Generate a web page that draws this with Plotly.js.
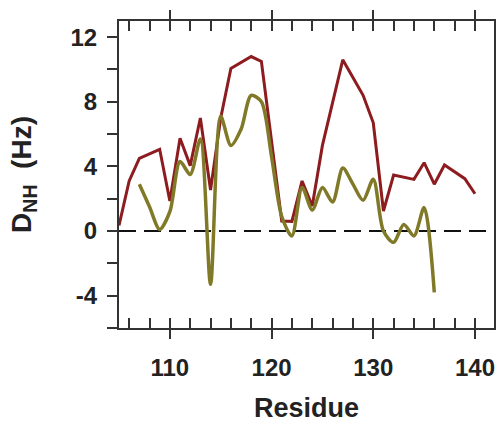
<!DOCTYPE html>
<html>
<head>
<meta charset="utf-8">
<script src="https://cdn.plot.ly/plotly-3.0.1.min.js"></script>
<style>html,body{margin:0;padding:0;background:#fff;}#chart{width:496px;height:423px;}</style>
</head>
<body>
<div id="chart"></div>
<script>
// Residue numbers and dipolar couplings (Hz)
const residuesA = [105,106,107,108,109,110,111,112,113,114,115,116,117,118,119,120,121,122,123,124,125,126,127,128,129,130,131,132,133,134,135,136,137,138,139,140];
const dnhA      = [0.35,3.1,4.5,4.78,5.06,1.86,5.74,4.05,7.0,2.54,7.0,10.06,10.43,10.8,10.5,5.5,0.62,0.6,3.1,1.55,5.3,7.95,10.6,9.5,8.4,6.7,1.24,3.47,3.33,3.2,4.23,2.9,4.09,3.65,3.24,2.31];

const residuesB = [107,108,109,110,111,112,113,114,115,116,117,118,119,120,121,122,123,124,125,126,127,128,129,130,131,132,133,134,135,136];
const dnhB      = [2.9,1.5,0.1,1.2,4.3,3.5,5.7,-3.3,7.1,5.3,6.3,8.4,8.0,4.6,0.9,-0.3,2.7,1.3,2.7,1.8,3.9,2.9,1.9,3.2,0.0,-0.7,0.4,-0.3,1.45,-3.8];

const xTickVals = [110,120,130,140];
const xTickText = ['110','120','130','140'];
const yTickVals = [-4,0,4,8,12];
const yTickText = ['-4','0','4','8','12'];

const axisColor = '#333333';
const fontFam = 'Liberation Sans, Arial, sans-serif';

const traces = [
  {x: residuesA, y: dnhA, type: 'scatter', mode: 'lines',
   line: {color: '#8c1c1f', width: 3}, hoverinfo: 'skip'},
  {x: residuesB, y: dnhB, type: 'scatter', mode: 'lines',
   line: {color: '#807a28', width: 3.5, shape: 'spline', smoothing: 0.8}, hoverinfo: 'skip'}
];

const layout = {
  width: 496, height: 423,
  margin: {l: 119, r: 2, t: 21, b: 95},
  paper_bgcolor: '#ffffff', plot_bgcolor: '#ffffff',
  showlegend: false,
  font: {family: fontFam, color: '#222222'},
  xaxis: {
    range: [105, 141.87],
    tickmode: 'array', tickvals: xTickVals, ticktext: xTickText,
    ticks: 'outside', ticklen: 9, tickwidth: 2, tickcolor: axisColor,
    ticklabelstandoff: 8,
    minor: {dtick: 2, tick0: 0, ticks: 'inside', ticklen: 10, tickwidth: 2, tickcolor: axisColor, showgrid: false},
    showline: true, linewidth: 2, linecolor: axisColor, mirror: 'ticks',
    showgrid: false, zeroline: false,
    tickfont: {size: 24, weight: 'bold', family: fontFam, color: '#222'},
    title: {text: 'Residue', font: {size: 27, weight: 'bold', family: fontFam, color: '#222'}, standoff: 20}
  },
  yaxis: {
    range: [-6, 13],
    tickmode: 'array', tickvals: yTickVals, ticktext: yTickText,
    ticks: 'outside', ticklen: 10, tickwidth: 2, tickcolor: axisColor,
    ticklabelstandoff: 5,
    minor: {dtick: 2, tick0: 0, ticks: 'outside', ticklen: 10, tickwidth: 2, tickcolor: axisColor, showgrid: false},
    showline: true, linewidth: 2, linecolor: axisColor, mirror: true,
    showgrid: false, zeroline: false,
    tickfont: {size: 24, weight: 'bold', family: fontFam, color: '#222'},
    title: {text: 'D<sub>NH</sub>  (Hz)', font: {size: 28, weight: 'bold', family: fontFam, color: '#222'}, standoff: 31}
  },
  shapes: [{
    type: 'line', xref: 'paper', x0: 0, x1: 1, yref: 'y', y0: 0, y1: 0,
    line: {color: '#111111', width: 2, dash: '17px,8px'}, layer: 'below'
  }]
};

Plotly.newPlot('chart', traces, layout, {staticPlot: true, displayModeBar: false});
</script>
</body>
</html>
